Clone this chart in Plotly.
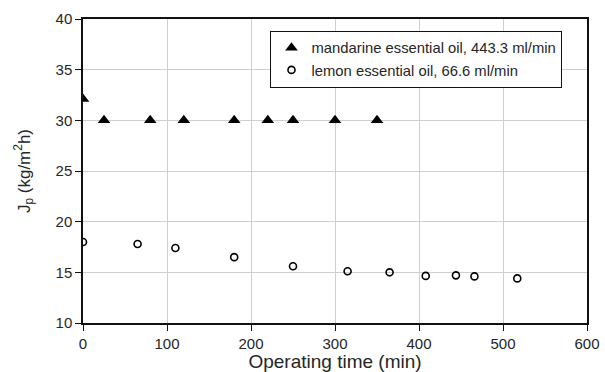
import plotly.graph_objects as go

# Permeate flux vs operating time for two essential oils
mandarin_time = [0, 25, 80, 120, 180, 220, 250, 300, 350]
mandarin_flux = [32.1, 30.0, 30.0, 30.0, 30.0, 30.0, 30.0, 30.0, 30.0]

lemon_time = [0, 65, 110, 180, 250, 315, 365, 408, 444, 466, 517]
lemon_flux = [18.0, 17.8, 17.4, 16.5, 15.6, 15.1, 15.0, 14.65, 14.7, 14.6, 14.4]

mandarin_label = "mandarine essential oil, 443.3 ml/min"
lemon_label = "lemon essential oil, 66.6 ml/min"

x_ticks = [0, 100, 200, 300, 400, 500, 600]
y_ticks = [10, 15, 20, 25, 30, 35, 40]

FONT = "Liberation Sans, Arial, sans-serif"
TEXT = "#262626"

fig = go.Figure()
fig.add_trace(go.Scatter(
    x=mandarin_time, y=mandarin_flux, mode="markers", name=mandarin_label,
    marker=dict(symbol="triangle-up", size=11, color="black"),
))
fig.add_trace(go.Scatter(
    x=lemon_time, y=lemon_flux, mode="markers", name=lemon_label,
    marker=dict(symbol="circle-open", size=7, color="black", line=dict(width=1.6, color="black")),
))

axis_common = dict(
    showgrid=True, gridcolor="#cfcfcf", gridwidth=1,
    showline=True, linecolor="#111", linewidth=1.5, mirror=True,
    ticks="outside", ticklen=6, tickcolor="#111", tickwidth=1,
    zeroline=False, automargin=False,
    tickfont=dict(family=FONT, size=15, color=TEXT),
)

fig.update_xaxes(
    range=[0, 600], tickvals=x_ticks,
    title=dict(text="Operating time (min)", font=dict(family=FONT, size=19, color=TEXT), standoff=2),
    **axis_common,
)
fig.update_yaxes(
    range=[10, 40], tickvals=y_ticks,
    title=dict(text="J<sub>p</sub> (kg/m<sup>2</sup>h)", font=dict(family=FONT, size=17, color=TEXT), standoff=21),
    **axis_common,
)

fig.update_layout(
    width=605, height=372,
    margin=dict(l=83, r=18, t=19, b=49, autoexpand=False),
    paper_bgcolor="white", plot_bgcolor="white",
    font=dict(family=FONT, color=TEXT),
    legend=dict(
        x=0.372, y=0.962, xanchor="left", yanchor="top",
        bgcolor="white", bordercolor="#111", borderwidth=1,
        font=dict(family=FONT, size=14.8, color=TEXT),
        itemwidth=30, tracegroupgap=0,
    ),
)

fig.write_html("out.html")
